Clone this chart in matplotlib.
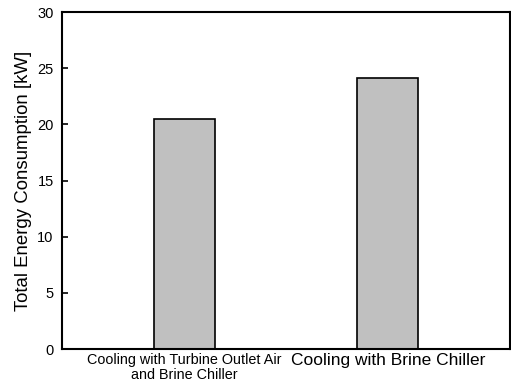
import matplotlib
matplotlib.use('Agg')
import matplotlib.pyplot as plt

plt.rcParams['font.family'] = ['Liberation Sans', 'DejaVu Sans']

######################## - DATA - #############################
CASES = ['Cooling with Turbine Outlet Air\nand Brine Chiller', 'Cooling with Brine Chiller']
ENERGY_KW = [20.5, 24.1]
Y_TICKS = [0, 5, 10, 15, 20, 25, 30]


def main():
    fig = plt.figure(figsize=(5.11, 3.90), dpi=100)
    ax = fig.add_axes([0.1213, 0.105, 0.8767, 0.864])

    xs = range(len(CASES))
    ax.bar(xs, ENERGY_KW, width=0.3, color='#c0c0c0', edgecolor='black', linewidth=1.2)

    ax.set_xlim(-0.6, 1.6)
    ax.set_ylim(0, 30)
    ax.set_yticks(Y_TICKS)
    ax.tick_params(axis='y', direction='in', length=4, width=1.2, labelsize=10.5, pad=6)
    ax.set_xticks(list(xs))
    ax.set_xticklabels(CASES)
    ax.tick_params(axis='x', length=0, pad=3)
    labels = ax.get_xticklabels()
    labels[0].set_fontsize(10.4)
    labels[0].set_linespacing(1.05)
    labels[1].set_fontsize(12.5)

    for s in ax.spines.values():
        s.set_linewidth(1.5)

    ax.set_ylabel('Total Energy Consumption [kW]', fontsize=13.4, labelpad=4)

    fig.savefig('out.png', dpi=100)


if __name__ == "__main__":
    main()
